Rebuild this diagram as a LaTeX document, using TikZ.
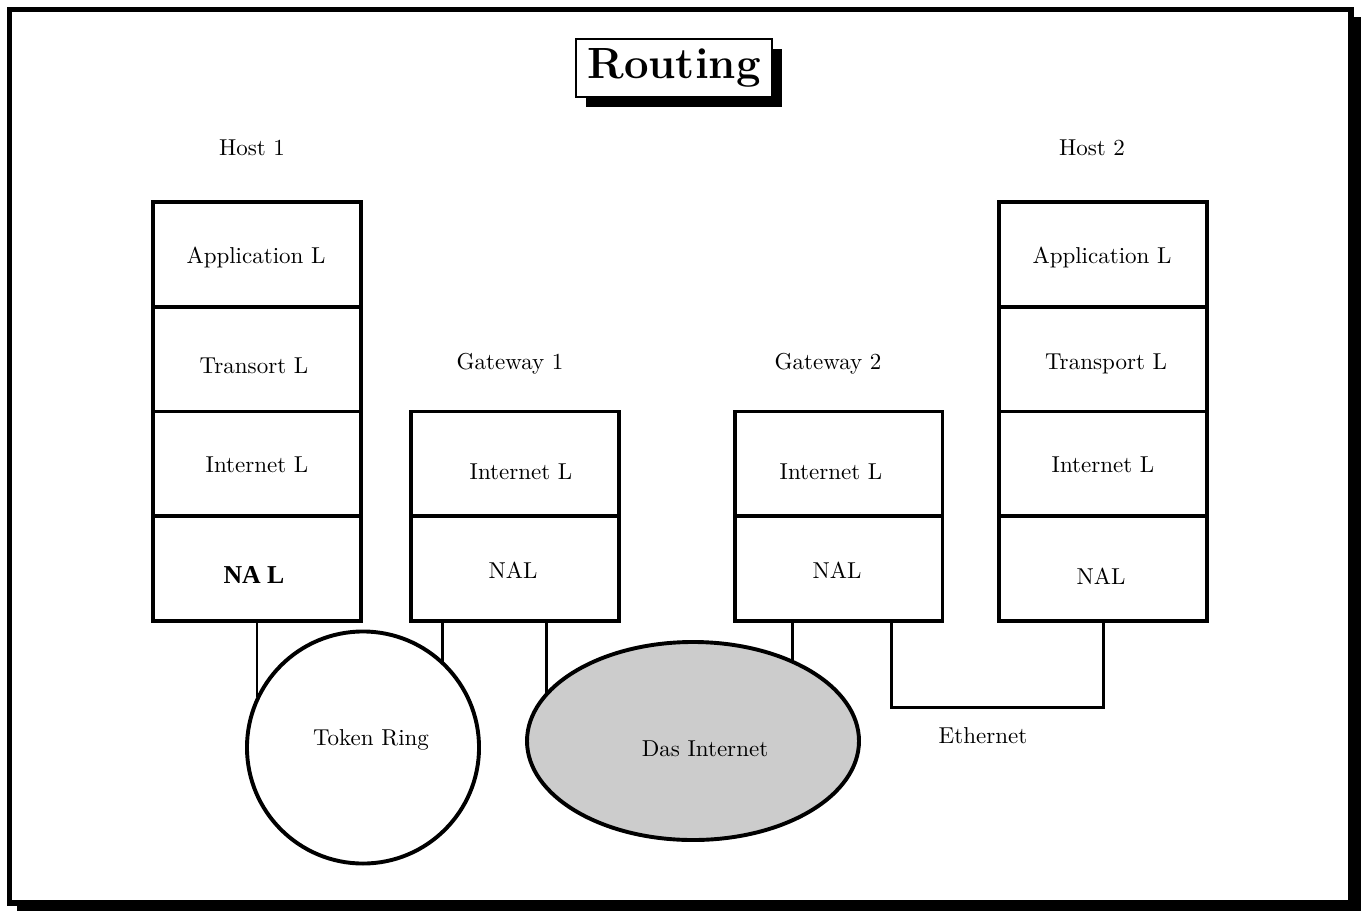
\documentclass[tikz,border=0pt]{standalone}
\usepackage{fontspec}
\newfontfamily\nalfont{Liberation Serif}
\usetikzlibrary{shapes.geometric,shadows,calc}
\begin{document}
\begin{tikzpicture}[x=0.4348pt,y=-0.4348pt,
  cell/.style={draw,line width=1.7pt,minimum width=90.4pt,minimum height=45.54pt,inner sep=0pt,outer sep=0pt},
  lbl/.style={anchor=base,inner sep=0pt,font=\fontsize{10}{12}\selectfont},
  wire/.style={line width=1.3pt},
  net/.style={draw,line width=1.7pt,inner sep=0pt,outer sep=0pt}]
% page frame with its shadow
\useasboundingbox (0,0) rectangle (1361,910);
\clip (0,0) rectangle (1361,910);
\fill[black] (17,17) rectangle (1372,921);
\draw[line width=2.6pt,fill=white] (9.5,9.5) rectangle (1351,903);

% title
\node[draw,line width=0.9pt,fill=white,minimum width=85.2pt,minimum height=25.2pt,inner sep=0pt,
  general shadow={fill=black,shadow xshift=4.4pt,shadow yshift=-4.4pt},
  font=\fontsize{19}{23}\selectfont\bfseries] (title) at (674,68) {Routing};

% Host 1 stack
\node[cell] (h1a) at (257,254.4) {};
\node[cell] (h1t) at (257,359.1) {};
\node[cell] (h1i) at (257,463.9) {};
\node[cell] (h1n) at (257,568.6) {};
% Host 2 stack
\node[cell] (h2a) at (1103,254.4) {};
\node[cell] (h2t) at (1103,359.1) {};
\node[cell] (h2i) at (1103,463.9) {};
\node[cell] (h2n) at (1103,568.6) {};
% Gateways
\node[cell] (g1i) at (515,463.9) {};
\node[cell] (g1n) at (515,568.6) {};
\node[cell] (g2i) at (838.5,463.9) {};
\node[cell] (g2n) at (838.5,568.6) {};

% networks
\node[net,circle,minimum size=100.9pt] (ring) at (363,747.5) {};
\node[net,ellipse,fill={rgb,255:red,204;green,204;blue,204},minimum width=144.35pt,minimum height=86.1pt] (inet) at (693,741) {};

% labels
\node[lbl] (lh1) at (252,155) {Host 1};
\node[lbl] (lh2) at (1092,155) {Host 2};
\node[lbl] (lg1) at (510,369) {Gateway 1};
\node[lbl] (lg2) at (828,369) {Gateway 2};
\node[lbl] (th1a) at (256,263) {Application L};
\node[lbl] (th1t) at (254,373) {Transort L};
\node[lbl] (th1i) at (257,472) {Internet L};
\node[lbl,font=\nalfont\fontsize{11.2}{13}\selectfont\bfseries] (th1n) at (254,583) {NA L};
\node[lbl] (th2a) at (1102,263) {Application L};
\node[lbl] (th2t) at (1106,369) {Transport L};
\node[lbl] (th2i) at (1103,472) {Internet L};
\node[lbl] (th2n) at (1101,584) {NAL};
\node[lbl] (tg1i) at (521,479) {Internet L};
\node[lbl] (tg1n) at (513,578) {NAL};
\node[lbl] (tg2i) at (831,479) {Internet L};
\node[lbl] (tg2n) at (837,578) {NAL};
\node[lbl] (tring) at (371,745) {Token Ring};
\node[lbl] (tinet) at (705,756) {Das Internet};
\node[lbl] (teth) at (983,743) {Ethernet};

% connections
\coordinate (g1a) at ($(g1n.south west)+(31,0)$);
\coordinate (g1b) at ($(g1n.south east)+(-72,0)$);
\coordinate (g2a) at ($(g2n.south west)+(58,0)$);
\coordinate (g2b) at ($(g2n.south east)+(-51,0)$);
\draw[wire] (h1n.south) -- (h1n.south |- ring.154.8);
\draw[wire] (g1a) -- (g1a |- ring.47.1);
\draw[wire] (g1b) -- (g1b |- inet.162.1);
\draw[wire] (g2a) -- (g2a |- inet.38.3);
\draw[wire] (g2b) -- ++(0,87) -| (h2n.south);
\end{tikzpicture}
\end{document}
